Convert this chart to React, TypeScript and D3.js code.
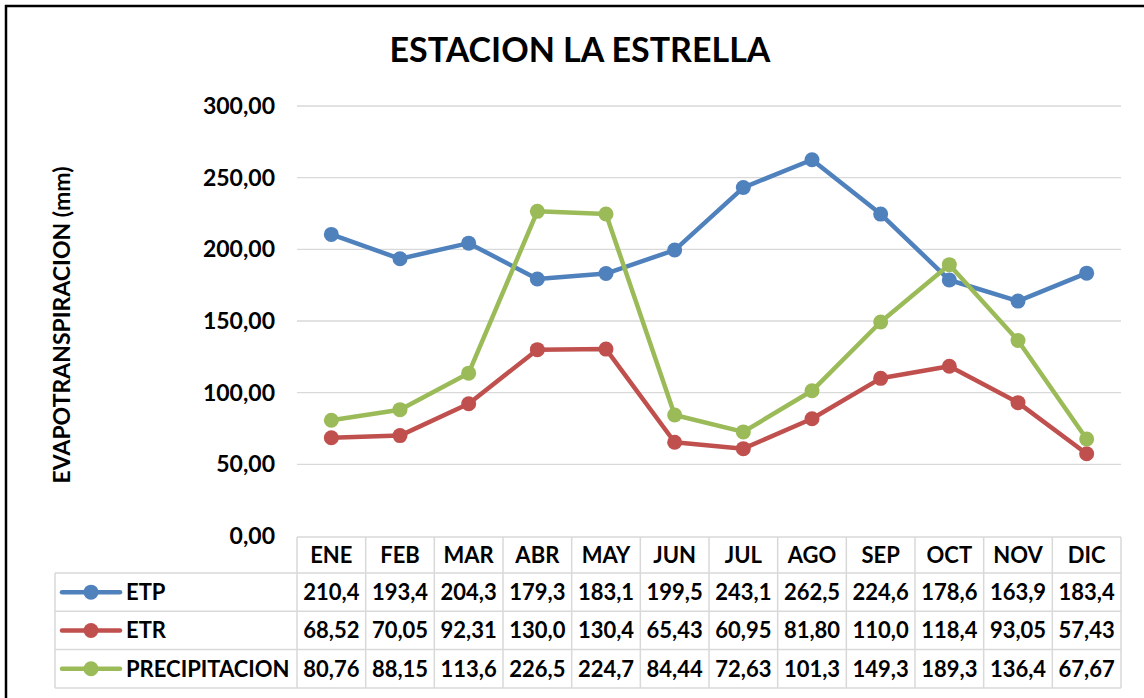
import React from 'react';
import * as d3 from 'd3';

const months = ['ENE', 'FEB', 'MAR', 'ABR', 'MAY', 'JUN', 'JUL', 'AGO', 'SEP', 'OCT', 'NOV', 'DIC'];
const etp = [210.4, 193.4, 204.3, 179.3, 183.1, 199.5, 243.1, 262.5, 224.6, 178.6, 163.9, 183.4];
const etr = [68.52, 70.05, 92.31, 130.0, 130.4, 65.43, 60.95, 81.8, 110.0, 118.4, 93.05, 57.43];
const precip = [80.76, 88.15, 113.6, 226.5, 224.7, 84.44, 72.63, 101.3, 149.3, 189.3, 136.4, 67.67];
const yTicks = [0, 50, 100, 150, 200, 250, 300];

const series = [
  { name: 'ETP', values: etp, color: '#4F81BD' },
  { name: 'ETR', values: etr, color: '#C0504D' },
  { name: 'PRECIPITACION', values: precip, color: '#9BBB59' },
];

const W = 1144;
const H = 698;
const FONT = 'Lato, "Open Sans", sans-serif';

const locale = d3.formatLocale({ decimal: ',', thousands: '.', grouping: [3], currency: ['$', ''] });
const tickFmt = locale.format('.2f');
const cellFmt = locale.format('.4r');

export default function App() {
  const left = 297;
  const right = 1121;
  const x = d3.scaleBand<string>().domain(months).range([left, right]);
  const y = d3.scaleLinear().domain([0, 300]).range([536, 106]);
  const bw = x.bandwidth();

  const tableTop = 537;
  const headerH = 36;
  const rowH = 38.3;
  const legendLeft = 55;
  const rowY = (i: number) => tableTop + headerH + i * rowH;
  const tableBottom = rowY(series.length);

  const line = (vals: number[]) =>
    d3.line<number>()
      .x((_, i) => (x(months[i]) as number) + bw / 2)
      .y((d) => y(d))(vals) as string;

  const gridColor = '#D9D9D9';

  return (
    <svg width={W} height={H} style={{ position: 'absolute', left: 0, top: 0, background: '#fff' }} fontFamily={FONT}>
      <rect x={0} y={0} width={W} height={H} fill="#fff" />
      <rect x={6} y={6} width={W + 50} height={H + 50} fill="none" stroke="#000" strokeWidth={2.5} />

      <text x={580} y={62} textAnchor="middle" fontSize={34} fontWeight={700} fill="#000">
        ESTACION LA ESTRELLA
      </text>

      {/* gridlines */}
      {yTicks.filter((t) => t > 0).map((t) => (
        <line key={t} x1={left} x2={right} y1={y(t)} y2={y(t)} stroke={gridColor} strokeWidth={1.3} />
      ))}
      {yTicks.map((t) => (
        <text key={t} x={275} y={y(t)} dy="0.35em" textAnchor="end" fontSize={23} fontWeight={700} fill="#000">
          {tickFmt(t)}
        </text>
      ))}

      <text
        transform={`translate(${62},${325}) rotate(-90)`}
        textAnchor="middle"
        dy="0.35em"
        fontSize={23}
        fontWeight={700}
        fill="#000"
      >
        EVAPOTRANSPIRACION (mm)
      </text>

      {/* data table */}
      <g stroke={gridColor} strokeWidth={1.5}>
        <line x1={left} x2={right} y1={tableTop} y2={tableTop} />
        {series.map((_, i) => (
          <line key={i} x1={legendLeft} x2={right} y1={rowY(i)} y2={rowY(i)} />
        ))}
        <line x1={legendLeft} x2={right} y1={tableBottom} y2={tableBottom} />
        <line x1={legendLeft} x2={legendLeft} y1={rowY(0)} y2={tableBottom} />
        {months.map((m) => (
          <line key={m} x1={x(m)} x2={x(m)} y1={tableTop} y2={tableBottom} />
        ))}
        <line x1={right} x2={right} y1={tableTop} y2={tableBottom} />
      </g>
      {months.map((m) => (
        <text key={m} x={(x(m) as number) + bw / 2} y={tableTop + headerH / 2} dy="0.36em" textAnchor="middle" fontSize={22} fontWeight={700} fill="#000">
          {m}
        </text>
      ))}
      {series.map((s, i) => {
        const cy = rowY(i) + rowH / 2;
        return (
          <g key={s.name}>
            <line x1={62} x2={120} y1={cy} y2={cy} stroke={s.color} strokeWidth={4.5} strokeLinecap="round" />
            <circle cx={91} cy={cy} r={7.5} fill={s.color} />
            <text x={126} y={cy} dy="0.36em" fontSize={22} fontWeight={700} fill="#000">
              {s.name}
            </text>
            {s.values.map((v, j) => (
              <text key={j} x={(x(months[j]) as number) + bw / 2} y={cy} dy="0.36em" textAnchor="middle" fontSize={22} fontWeight={700} fill="#000">
                {cellFmt(v)}
              </text>
            ))}
          </g>
        );
      })}

      {/* series */}
      {series.map((s) => (
        <g key={s.name}>
          <path d={line(s.values)} fill="none" stroke={s.color} strokeWidth={4.5} strokeLinejoin="round" strokeLinecap="round" />
          {s.values.map((v, j) => (
            <circle key={j} cx={(x(months[j]) as number) + bw / 2} cy={y(v)} r={7.5} fill={s.color} />
          ))}
        </g>
      ))}
    </svg>
  );
}
